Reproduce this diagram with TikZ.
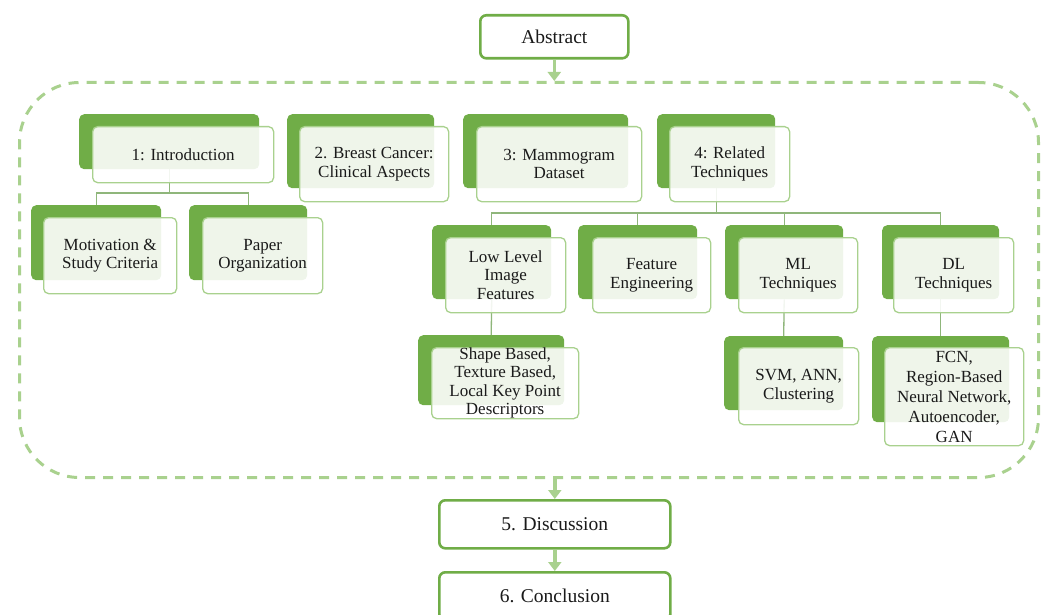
\documentclass[tikz,border=0pt]{standalone}
\usepackage{fontspec}
\setmainfont{Liberation Serif}
\usetikzlibrary{arrows.meta}
\definecolor{leaf}{HTML}{70AD47}
\definecolor{pale}{HTML}{A9D18E}
\definecolor{stem}{HTML}{8FB67B}
\definecolor{ink}{HTML}{1A1A1A}
\tikzset{
  backcard/.style={fill=leaf, draw=none, rounded corners=5pt, inner sep=0pt, anchor=north west},
  frontcard/.style={fill=white, fill opacity=0.89, text opacity=1, draw=pale, line width=1.3pt,
    rounded corners=5pt, inner sep=0pt, anchor=north west, align=center,
    font=\fontsize{17}{18.5}\selectfont, text=ink},
  mainbox/.style={fill=white, draw=leaf, line width=2.6pt, rounded corners=6pt, inner sep=0pt,
    anchor=north west, font=\fontsize{19.5}{22}\selectfont, text=ink},
  frame/.style={draw=pale, line width=3pt, dash pattern=on 10pt off 8pt, rounded corners=60pt,
    inner sep=0pt, anchor=north west},
  stemline/.style={draw=stem, line width=1.3pt},
  flow/.style={draw=pale, line width=3.6pt, -{Triangle[width=13pt,length=9pt]}},
}
\begin{document}
\begin{tikzpicture}[x=1pt,y=-1pt]
\useasboundingbox (0,0) rectangle (1046,615);

% outer dashed frame holding sections 1-4
\node[frame, minimum width=1019, minimum height=395] (body) at (18,81) {};

% top and bottom sections
\node[mainbox, minimum width=148, minimum height=43] (abstract) at (479,14) {Abstract};
\node[mainbox, minimum width=231, minimum height=48] (discussion) at (438,499) {5. Discussion};
\node[mainbox, minimum width=231, minimum height=48] (conclusion) at (438,571) {6. Conclusion};

\draw[flow] (abstract.south) -- (abstract.south |- body.north);
\draw[flow] (discussion.north |- body.south) -- (discussion.north);
\draw[flow] (discussion.south) -- (conclusion.north);

% solid green backing cards
\node[backcard, minimum width=180, minimum height=55] (introB) at (79,114) {};
\node[backcard, minimum width=147, minimum height=74] (breastB) at (287,114) {};
\node[backcard, minimum width=165, minimum height=74] (mammoB) at (463,114) {};
\node[backcard, minimum width=118, minimum height=74] (relatedB) at (657,114) {};
\node[backcard, minimum width=130, minimum height=75] (motivB) at (31,205) {};
\node[backcard, minimum width=118, minimum height=75] (paperB) at (189,205) {};
\node[backcard, minimum width=119, minimum height=74] (lowB) at (432,225) {};
\node[backcard, minimum width=119, minimum height=74] (featB) at (578,225) {};
\node[backcard, minimum width=118, minimum height=74] (mlB) at (725,225) {};
\node[backcard, minimum width=117, minimum height=74] (dlB) at (882,225) {};
\node[backcard, minimum width=146, minimum height=70] (shapeB) at (418,335) {};
\node[backcard, minimum width=119, minimum height=74] (svmB) at (724,336) {};
\node[backcard, minimum width=137, minimum height=86] (fcnB) at (872,336) {};

% tree connectors
\coordinate (j1) at (169,193);
\coordinate (j2) at (716,213);
\draw[stemline] (introB.south) -- (introB.south |- j1);
\draw[stemline] (motivB.north) |- (j1) -| (paperB.north);
\draw[stemline] (relatedB.south) -- (relatedB.south |- j2);
\draw[stemline] (lowB.north) |- (j2) -| (dlB.north);
\draw[stemline] (featB.north) -- (featB.north |- j2);
\draw[stemline] (mlB.north) -- (mlB.north |- j2);
\draw[stemline] (lowB.south) -- (shapeB.north);
\draw[stemline] (mlB.south) -- (svmB.north);
\draw[stemline] (dlB.south) -- (fcnB.north);

% translucent front cards with the labels
\node[frontcard, minimum width=181, minimum height=56] (intro) at (92,126) {1: Introduction};
\node[frontcard, minimum width=149, minimum height=75] (breast) at (299,126) {2. Breast Cancer:\\Clinical Aspects};
\node[frontcard, minimum width=165, minimum height=75] (mammo) at (476,126) {3: Mammogram\\Dataset};
\node[frontcard, minimum width=120, minimum height=75] (related) at (669,126) {4: Related\\Techniques};
\node[frontcard, minimum width=133, minimum height=76] (motiv) at (43,217) {Motivation \&\\Study Criteria};
\node[frontcard, minimum width=120, minimum height=76] (paper) at (202,217) {Paper\\Organization};
\node[frontcard, minimum width=120, minimum height=75] (low) at (445,237) {Low Level\\Image\\Features};
\node[frontcard, minimum width=118, minimum height=75] (feat) at (592,237) {Feature\\Engineering};
\node[frontcard, minimum width=119, minimum height=75] (ml) at (738,237) {ML\\Techniques};
\node[frontcard, minimum width=120, minimum height=75] (dl) at (893,237) {DL\\Techniques};
\node[frontcard, minimum width=147, minimum height=71] (shape) at (431,347) {Shape Based,\\Texture Based,\\Local Key Point\\Descriptors};
\node[frontcard, minimum width=120, minimum height=77] (svm) at (738,347) {SVM, ANN,\\Clustering};
\node[frontcard, minimum width=139, minimum height=98, font=\fontsize{17}{20}\selectfont] (fcn) at (884,347) {FCN,\\Region-Based\\Neural Network,\\Autoencoder,\\GAN};
\end{tikzpicture}
\end{document}
